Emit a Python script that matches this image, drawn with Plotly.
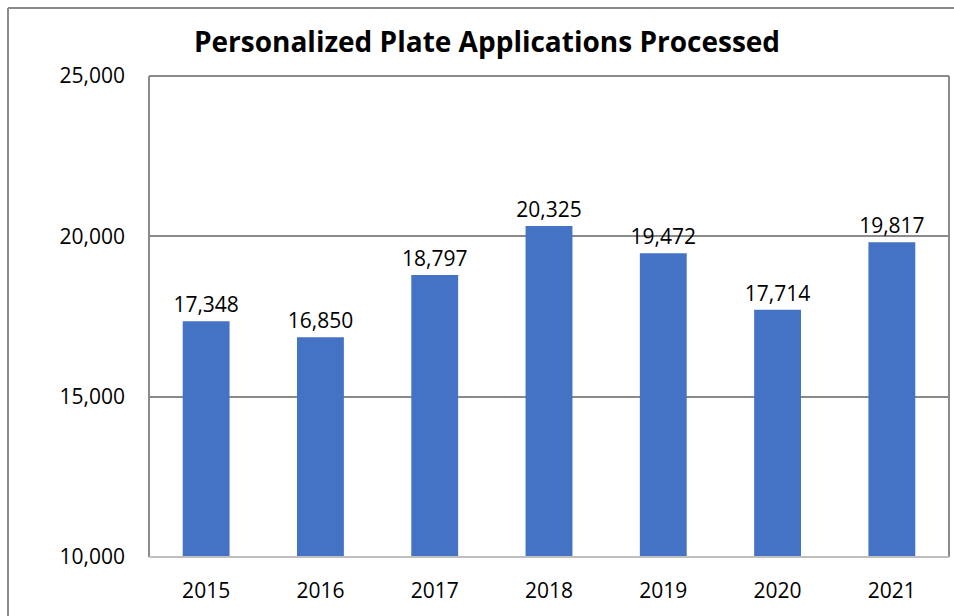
import plotly.graph_objects as go

years = ["2015", "2016", "2017", "2018", "2019", "2020", "2021"]
applications = [17348, 16850, 18797, 20325, 19472, 17714, 19817]
y_ticks = [10000, 15000, 20000, 25000]

W, H = 954, 616
L, T, R, B = 149, 76, 949, 557
FONT = "Open Sans, Lato, sans-serif"

def px_x(px):
    return (px - L) / (R - L)

def px_y(py):
    return (B - py) / (B - T)

fig = go.Figure(
    go.Bar(
        x=years,
        y=applications,
        marker=dict(color="#4472C4", line=dict(width=0)),
        width=0.41,
        text=applications,
        texttemplate="%{y:,}",
        textposition="outside",
        constraintext="none",
        textfont=dict(family=FONT, size=21, color="#000000"),
        cliponaxis=False,
    )
)

frame = "#8a8a8a"
shapes = [
    # outer chart frame (left and top edges)
    dict(type="line", xref="paper", yref="paper", x0=px_x(8), x1=px_x(8), y0=px_y(8), y1=px_y(700),
         line=dict(color=frame, width=2)),
    dict(type="line", xref="paper", yref="paper", x0=px_x(8), x1=px_x(1000), y0=px_y(8), y1=px_y(8),
         line=dict(color=frame, width=2)),
    # plot area border
    dict(type="line", xref="paper", yref="paper", x0=0, x1=0, y0=0, y1=1, line=dict(color=frame, width=2)),
    dict(type="line", xref="paper", yref="paper", x0=0, x1=1, y0=1, y1=1, line=dict(color=frame, width=2)),
    dict(type="line", xref="paper", yref="paper", x0=1, x1=1, y0=0, y1=1, line=dict(color=frame, width=2)),
    dict(type="line", xref="paper", yref="paper", x0=0, x1=1, y0=0, y1=0, line=dict(color="#bfbfbf", width=2)),
]

fig.update_layout(
    width=W,
    height=H,
    margin=dict(l=L, r=W - R, t=T, b=H - B),
    paper_bgcolor="white",
    plot_bgcolor="white",
    showlegend=False,
    title=dict(
        text="<b>Personalized Plate Applications Processed</b>",
        x=px_x(487), xref="paper", xanchor="center",
        y=1 - 42 / H, yanchor="middle",
        font=dict(family=FONT, size=28, color="#000000"),
    ),
    xaxis=dict(
        showgrid=False,
        showline=False,
        ticks="",
        tickfont=dict(family=FONT, size=21, color="#000000"),
        ticklabelstandoff=19,
    ),
    yaxis=dict(
        range=[10000, 25000],
        tickvals=y_ticks,
        tickformat=",",
        showgrid=True,
        gridcolor=frame,
        gridwidth=2,
        zeroline=False,
        showline=False,
        ticks="",
        tickfont=dict(family=FONT, size=21, color="#000000"),
        ticklabelstandoff=23,
    ),
    shapes=shapes,
    bargap=0.59,
)

fig.write_html("out.html")
